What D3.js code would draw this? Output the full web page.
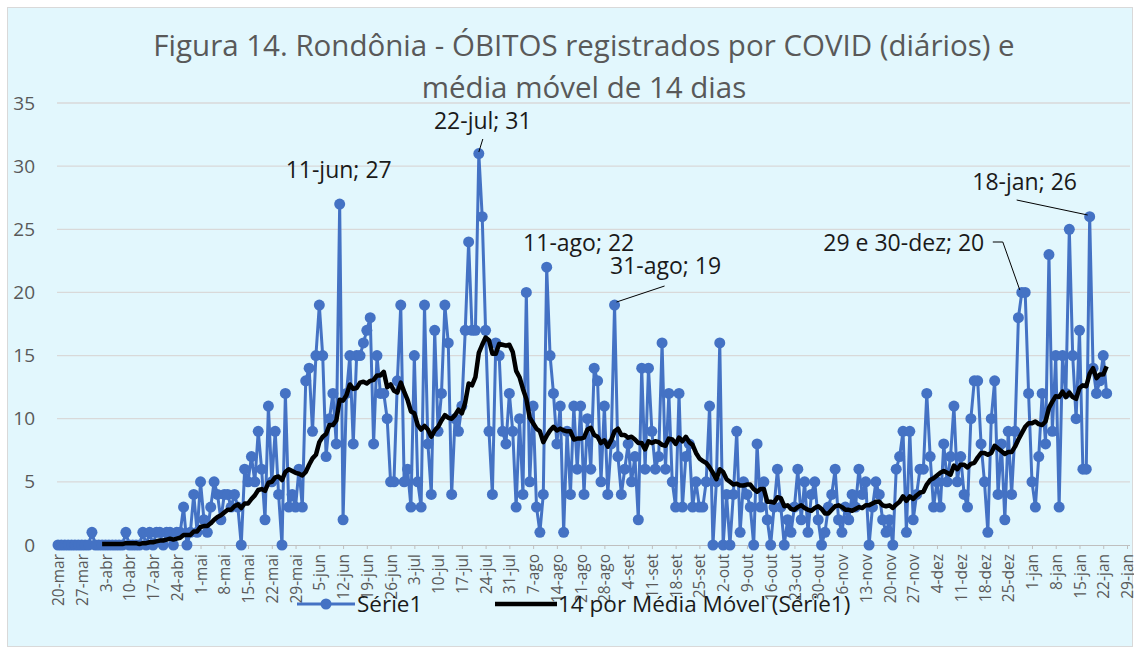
<!DOCTYPE html>
<html>
<head>
<meta charset="utf-8">
<script src="https://cdn.jsdelivr.net/npm/d3@7"></script>
<style>
  body { margin: 0; background: #fff; }
  svg { display: block; font-family: "Open Sans", "Noto Sans", sans-serif; }
</style>
</head>
<body>
<div id="chart"></div>
<script>
const width = 1134,
      height = 648;

// serie diaria a partir de 20-mar-2020
const inicio = '2020-03-20',
      fimEixo = '2021-01-29';

const meses = ['jan', 'fev', 'mar', 'abr', 'mai', 'jun', 'jul', 'ago', 'set', 'out', 'nov', 'dez'];

const obitos = [
  0, 0, 0, 0, 0, 0, 0, 0, 0, 0,
  1, 0, 0, 0, 0, 0, 0, 0, 0, 0,
  1, 0, 0, 0, 0, 1, 0, 1, 0, 1,
  1, 0, 1, 1, 0, 1, 1, 3, 0, 1,
  4, 1, 5, 2, 1, 3, 5, 4, 2, 4,
  4, 3, 4, 3, 0, 6, 5, 7, 5, 9,
  6, 2, 11, 5, 9, 4, 0, 12, 3, 4,
  3, 6, 3, 13, 14, 9, 15, 19, 15, 7,
  10, 12, 8, 27, 2, 12, 15, 8, 15, 15,
  16, 17, 18, 8, 15, 12, 12, 10, 5, 5,
  13, 19, 5, 6, 3, 15, 5, 3, 19, 8,
  4, 17, 9, 12, 19, 16, 4, 10, 9, 11,
  17, 24, 17, 17, 31, 26, 17, 9, 4, 16,
  15, 9, 8, 12, 9, 3, 10, 4, 20, 5,
  11, 3, 1, 4, 22, 15, 12, 8, 11, 1,
  9, 4, 11, 6, 11, 4, 10, 6, 14, 13,
  5, 11, 4, 8, 19, 7, 4, 6, 8, 5,
  7, 2, 14, 6, 14, 9, 6, 7, 16, 6,
  12, 5, 3, 12, 3, 7, 8, 3, 5, 3,
  3, 5, 11, 0, 5, 16, 0, 4, 0, 4,
  9, 1, 5, 4, 3, 0, 8, 3, 5, 2,
  0, 3, 6, 3, 0, 2, 1, 3, 6, 2,
  5, 1, 4, 5, 2, 0, 1, 3, 4, 6,
  2, 1, 3, 2, 4, 3, 6, 4, 5, 0,
  3, 5, 4, 2, 1, 2, 0, 6, 7, 9,
  1, 9, 2, 4, 6, 6, 12, 7, 3, 5,
  3, 8, 5, 7, 11, 5, 7, 4, 3, 10,
  13, 13, 8, 5, 1, 10, 13, 4, 8, 2,
  9, 4, 9, 18, 20, 20, 12, 5, 3, 7,
  12, 8, 23, 9, 15, 3, 15, 12, 25, 15,
  10, 17, 6, 6, 26, 14, 12, 13, 15, 12
];

const periodo = 14;
const yTicks = [0, 5, 10, 15, 20, 25, 30, 35];

const destaques = [
  ['2020-06-11', '11-jun; 27'],
  ['2020-07-22', '22-jul; 31'],
  ['2020-08-11', '11-ago; 22'],
  ['2020-08-31', '31-ago; 19'],
  ['2020-12-29', '29 e 30-dez; 20'],
  ['2021-01-18', '18-jan; 26']
];

const titulo = ['Figura 14. Rondônia - ÓBITOS registrados por COVID (diários) e',
                'média móvel de 14 dias'];
const legendaNomes = ['Série1', '14 por Média Móvel (Série1)'];

const azul = '#4472C4',
      cinza = '#595959';

const parse = d3.utcParse('%Y-%m-%d');
const d0 = parse(inicio),
      d1 = parse(fimEixo);

const dados = obitos.map(function(v, i) {
  return { date: d3.utcDay.offset(d0, i), v: v };
});

// media movel 14 dias (linha de tendencia do Excel)
const media = dados.slice(periodo - 1).map(function(d, i) {
  return { date: d.date, v: d3.mean(obitos.slice(i, i + periodo)) };
});

const svg = d3.select('#chart')
              .append('svg')
              .attr('width', width)
              .attr('height', height);

svg.append('rect')
   .attr('x', 7.5).attr('y', 7.5)
   .attr('width', width - 9).attr('height', height - 9)
   .attr('fill', '#E2F7FD')
   .attr('stroke', '#D9D9D9');

svg.selectAll('.titulo')
   .data(titulo)
   .enter().append('text')
   .attr('x', 584)
   .attr('y', function(d, i) { return 56 + i * 42; })
   .attr('text-anchor', 'middle')
   .attr('font-size', 29.5)
   .attr('fill', cinza)
   .text(function(d) { return d; });

const x = d3.scaleUtc()
            .domain([d0, d1])
            .range([58, 1127]);

const y = d3.scaleLinear()
            .domain([0, 35])
            .range([545, 103]);

// grade
svg.append('g')
   .selectAll('line')
   .data(yTicks.slice(1))
   .enter().append('line')
   .attr('x1', 57).attr('x2', 1130)
   .attr('y1', function(d) { return y(d); })
   .attr('y2', function(d) { return y(d); })
   .attr('stroke', '#D9D9D9')
   .attr('stroke-width', 1.3);

const yAxis = d3.axisLeft(y)
                .tickValues(yTicks)
                .tickSize(0)
                .tickPadding(0);

const yAxisGroup = svg.append('g')
                      .attr('transform', 'translate(35, 0)')
                      .call(yAxis);
yAxisGroup.select('.domain').remove();
yAxisGroup.selectAll('text')
          .attr('font-size', 19)
          .attr('font-family', '"Open Sans", sans-serif')
          .attr('fill', cinza);

const xTicks = d3.utcDay.range(d0, d3.utcDay.offset(d1, 1), 7);

const xAxis = d3.axisBottom(x)
                .tickValues(xTicks)
                .tickSize(4)
                .tickFormat(function(d) { return d.getUTCDate() + '-' + meses[d.getUTCMonth()]; });

const xAxisGroup = svg.append('g')
                      .attr('transform', 'translate(0, 545)')
                      .call(xAxis);
xAxisGroup.select('.domain')
          .attr('stroke', '#BFBFBF')
          .attr('d', 'M57,0.5H1130');
xAxisGroup.selectAll('.tick line').attr('stroke', '#BFBFBF');
xAxisGroup.selectAll('text')
          .attr('transform', 'rotate(-90)')
          .attr('text-anchor', 'end')
          .attr('x', -9)
          .attr('y', 0)
          .attr('dy', '0.36em')
          .attr('font-size', 15.5)
          .attr('font-family', '"Open Sans", sans-serif')
          .attr('fill', cinza);

const linha = d3.line()
                .x(function(d) { return x(d.date); })
                .y(function(d) { return y(d.v); });

svg.append('path')
   .datum(dados)
   .attr('fill', 'none')
   .attr('stroke', azul)
   .attr('stroke-width', 3)
   .attr('stroke-linejoin', 'round')
   .attr('d', linha);

svg.append('g')
   .selectAll('circle')
   .data(dados)
   .enter().append('circle')
   .attr('cx', function(d) { return x(d.date); })
   .attr('cy', function(d) { return y(d.v); })
   .attr('r', 5.5)
   .attr('fill', azul);

svg.append('path')
   .datum(media)
   .attr('fill', 'none')
   .attr('stroke', '#000')
   .attr('stroke-width', 4.5)
   .attr('stroke-linejoin', 'round')
   .attr('d', linha);

// rotulos de dados
const porData = new Map(dados.map(function(d) { return [+d.date, d]; }));
const posRotulo = [
  { dx: -1, ty: 178, leader: null },
  { dx: 4, ty: 129, leader: [[4, 139], [0, 152]] },
  { dx: 32, ty: 251, leader: null },
  { dx: 51, ty: 274, leader: [[50, 286], [2, 302]] },
  { dx: -118, ty: 251, leader: [[-29, 242], [-19, 242], [-2, 290]] },
  { dx: -65, ty: 190, leader: [[-73, 200], [-2, 215]] }
];

destaques.forEach(function(item, i) {
  const d = porData.get(+parse(item[0]));
  const px = x(d.date), p = posRotulo[i];
  svg.append('text')
     .attr('x', px + p.dx)
     .attr('y', p.ty)
     .attr('text-anchor', 'middle')
     .attr('font-size', 23)
     .attr('fill', '#1a1a1a')
     .text(item[1]);
  if (p.leader) {
    svg.append('path')
       .attr('fill', 'none')
       .attr('stroke', '#000')
       .attr('stroke-width', 1)
       .attr('d', d3.line()(p.leader.map(function(q) { return [px + q[0], q[1]]; })));
  }
});

// legenda
const leg = svg.append('g').attr('transform', 'translate(0, 604)');
leg.append('line')
   .attr('x1', 297).attr('x2', 355)
   .attr('stroke', azul).attr('stroke-width', 3);
leg.append('circle')
   .attr('cx', 326).attr('r', 5.5).attr('fill', azul);
leg.append('line')
   .attr('x1', 495).attr('x2', 557)
   .attr('stroke', '#000').attr('stroke-width', 4.5);
leg.selectAll('text')
   .data(legendaNomes)
   .enter().append('text')
   .attr('x', function(d, i) { return i === 0 ? 357 : 558; })
   .attr('y', 8)
   .attr('font-size', 22.5)
   .attr('fill', '#1a1a1a')
   .text(function(d) { return d; });
</script>
</body>
</html>
